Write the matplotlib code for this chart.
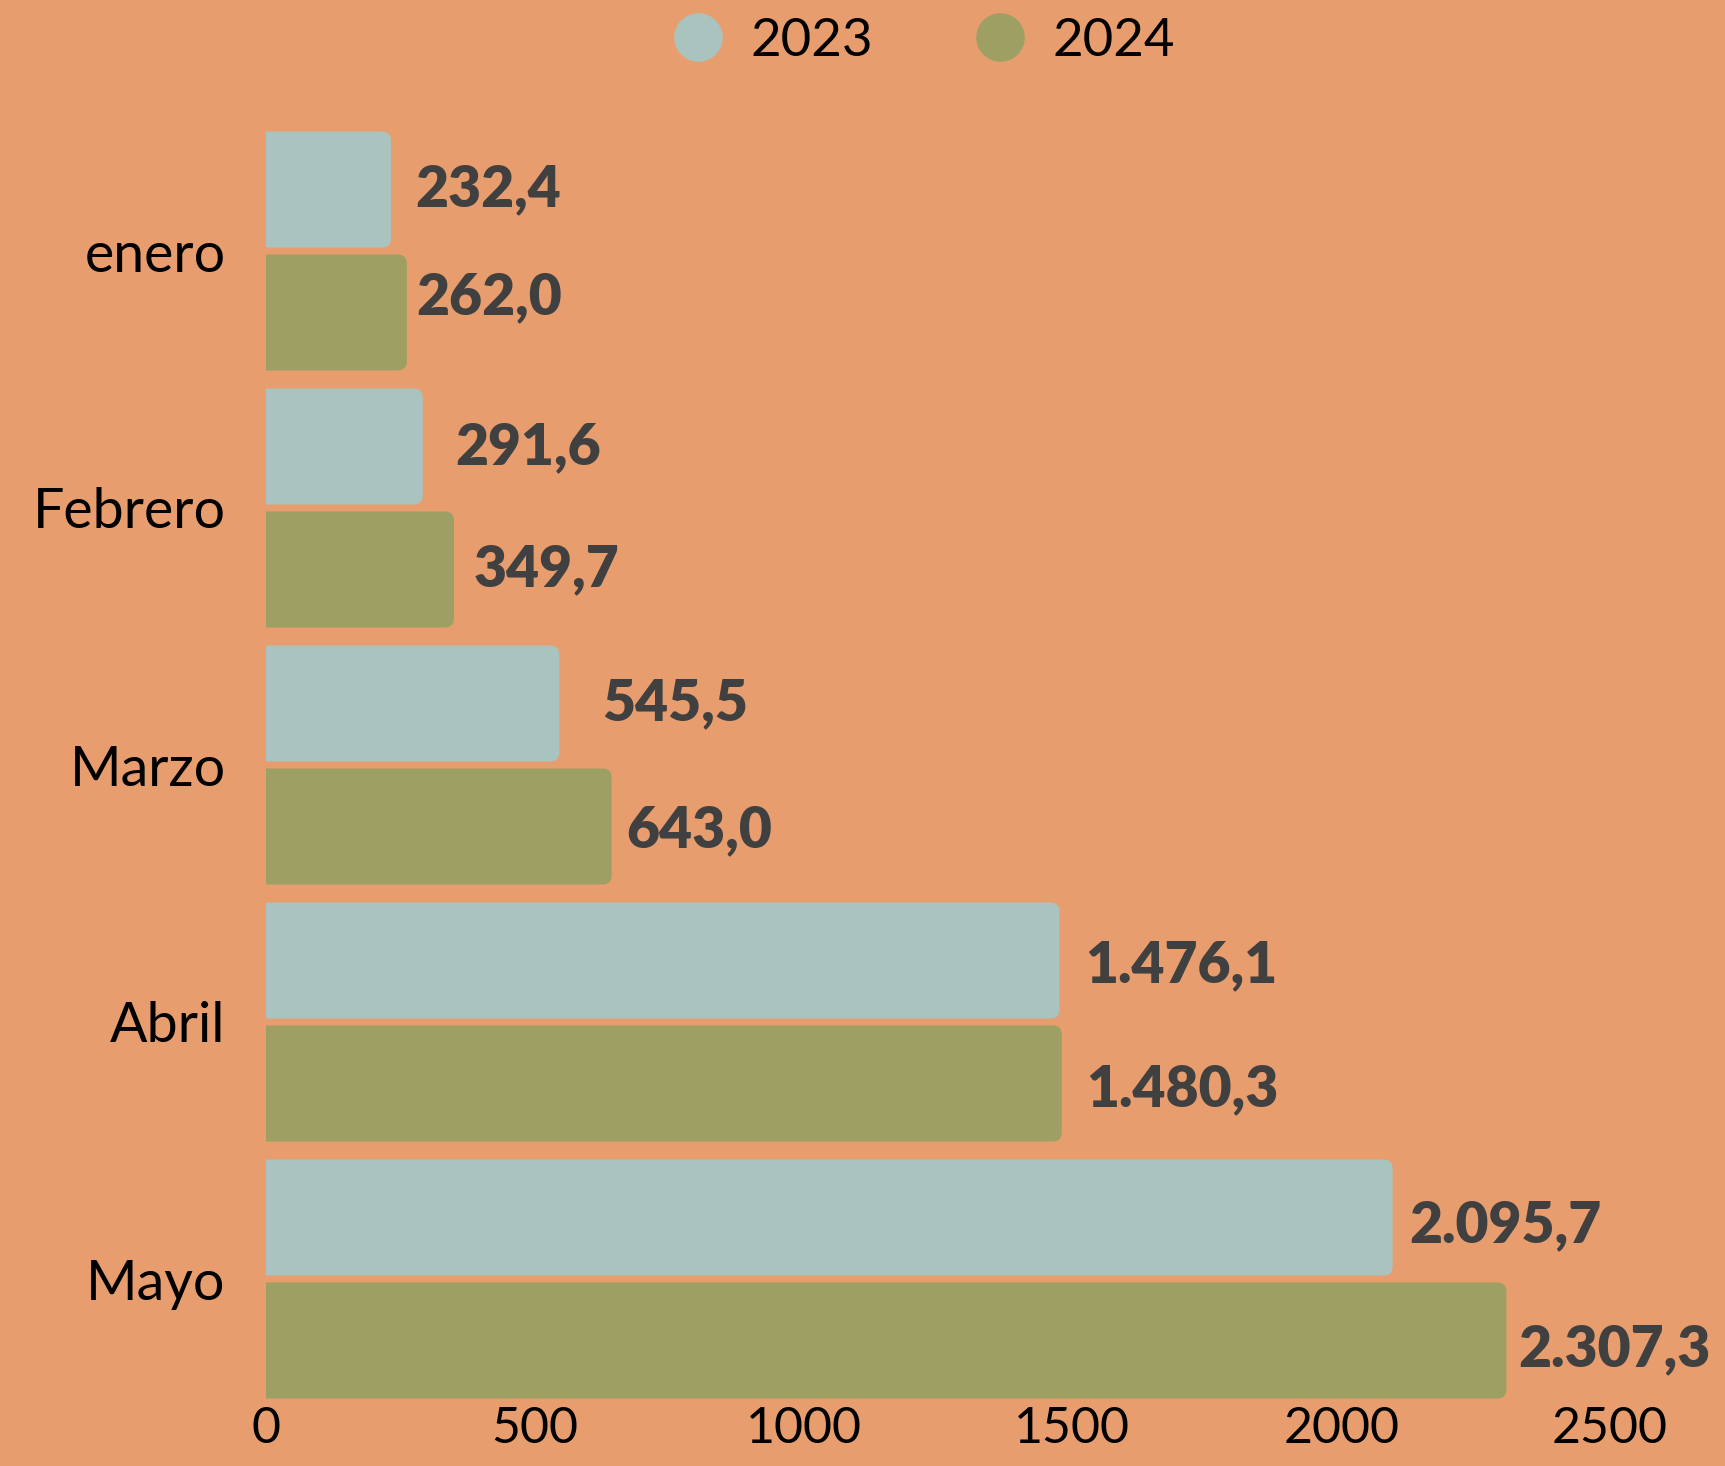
import matplotlib
matplotlib.use("Agg")
import matplotlib.pyplot as plt
from matplotlib.patches import FancyBboxPatch
from matplotlib.lines import Line2D
import numpy as np

# ---- data ----
months = ["enero", "Febrero", "Marzo", "Abril", "Mayo"]
series_names = ["2023", "2024"]
v2023 = [232.4, 291.6, 545.5, 1476.1, 2095.7]
v2024 = [262.0, 349.7, 643.0, 1480.3, 2307.3]
xticks = [0, 500, 1000, 1500, 2000, 2500]

# ---- style ----
BG = "#E89D6E"
C23 = "#A9C3BF"
C24 = "#9DA062"
TXT = "#404040"
pad_2023 = [24, 32, 43, 26, 17]   # label gap in px
pad_2024 = [9, 20, 15, 24, 12]
voff_2023 = [0, -1, 0, -5, -8]    # label vertical shift in px
voff_2024 = [15, 0, -4, -6, -9]

plt.rcParams['font.family'] = ['Lato', 'DejaVu Sans']

W, H = 1725, 1466
fig = plt.figure(figsize=(W / 100, H / 100), dpi=100, facecolor=BG)
left_px, right_px, top_px, bottom_px = 266, 1725, 100, 1405
ax = fig.add_axes([left_px / W, 1 - bottom_px / H,
                   (right_px - left_px) / W, (bottom_px - top_px) / H])
ax.set_facecolor(BG)

px_per_unit = 537.6 / 1000
pitch = 257
center0 = 251
ax.set_xlim(0, (right_px - left_px) / px_per_unit)
ax.set_ylim((bottom_px - center0) / pitch, (top_px - center0) / pitch)

y = np.arange(len(months))
bh = 116 / pitch
off = (116 + 7) / 2 / pitch

bars23 = ax.barh(y - off, v2023, height=bh, color=C23)
bars24 = ax.barh(y + off, v2024, height=bh, color=C24)

r_px = 9
rx = r_px / px_per_unit
ry = r_px / pitch
for bars, color in ((bars23, C23), (bars24, C24)):
    for b in bars:
        x0, y0 = b.get_x(), b.get_y()
        w, hh = b.get_width(), b.get_height()
        b.set_visible(False)
        p = FancyBboxPatch((x0 - 2 * rx, y0), w + 2 * rx, hh,
                           boxstyle=f"round,pad=0,rounding_size={rx}",
                           mutation_aspect=ry / rx,
                           facecolor=color, edgecolor='none')
        ax.add_patch(p)


def fmt(v):
    s = f"{v:,.1f}"
    return s.replace(",", "X").replace(".", ",").replace("X", ".")


for bars, vals, pads, voffs in ((bars23, v2023, pad_2023, voff_2023),
                                (bars24, v2024, pad_2024, voff_2024)):
    for b, v, pd_, vo in zip(bars, vals, pads, voffs):
        ax.annotate(fmt(v), (b.get_width(), b.get_y() + b.get_height() / 2),
                    xytext=(pd_, vo), textcoords='offset pixels',
                    ha='left', va='center', fontsize=41, fontweight='heavy',
                    color=TXT)

ax.set_xticks(xticks)
ax.set_xticklabels([str(t) for t in xticks])
ax.set_yticks(y)
ax.set_yticklabels(months)
ax.tick_params(axis='x', length=0, labelsize=36, pad=1, colors='black')
ax.tick_params(axis='y', length=0, labelsize=40, pad=29, colors='black')
for s in ax.spines.values():
    s.set_visible(False)

handles = [Line2D([], [], marker='o', ls='', markersize=35, color=C23, markeredgewidth=0),
           Line2D([], [], marker='o', ls='', markersize=35, color=C24, markeredgewidth=0)]
fig.legend(handles, series_names, loc='center', bbox_to_anchor=(923 / W, 1 - 41 / H),
           ncol=2, frameon=False, fontsize=38, handlelength=1.0,
           handletextpad=0.5, columnspacing=1.9, borderpad=0, borderaxespad=0)

fig.savefig("out.png", dpi=100, facecolor=BG)
